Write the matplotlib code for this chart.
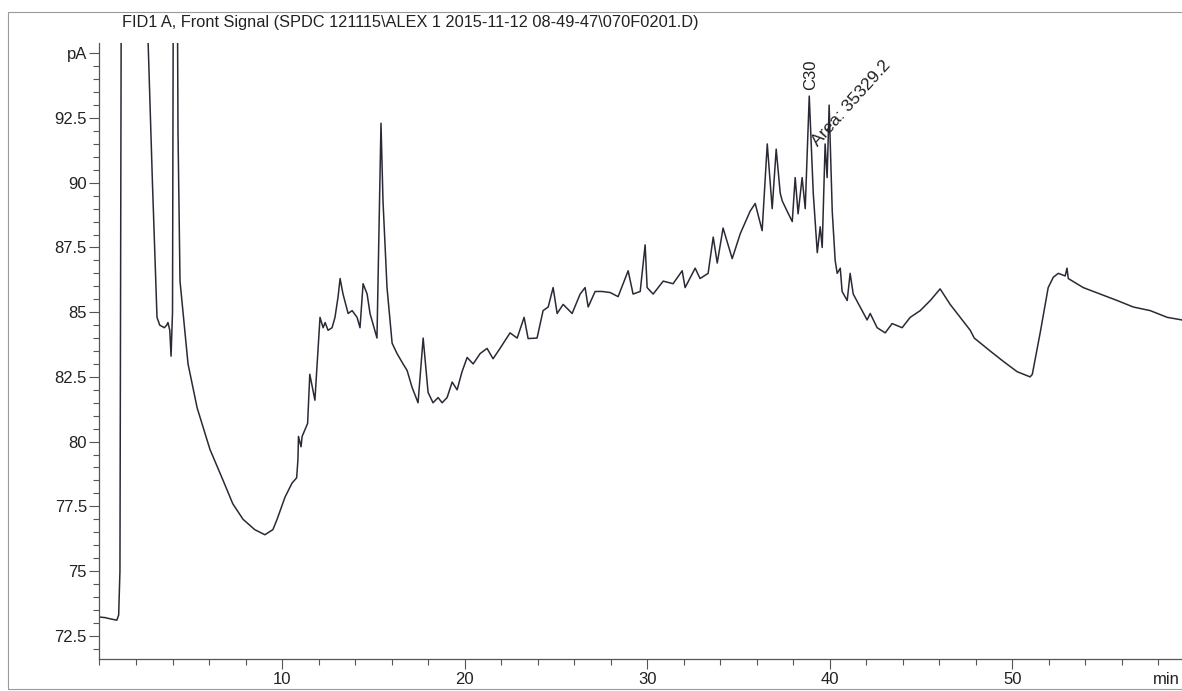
import matplotlib
matplotlib.use("Agg")
import matplotlib.pyplot as plt
from matplotlib.ticker import FixedLocator, MultipleLocator
from matplotlib.patches import Rectangle

plt.rcParams['font.family'] = ['Liberation Sans', 'DejaVu Sans']

title = "FID1 A, Front Signal (SPDC 121115\\ALEX 1 2015-11-12 08-49-47\\070F0201.D)"

# retention time (min)
time_min = [
    0.0, 0.3, 0.6, 0.95, 1.05, 1.12, 1.2,
    2.62, 2.66, 2.9, 3.15, 3.3, 3.55, 3.68, 3.75, 3.85, 3.92, 4.0, 4.05,
    4.25, 4.3, 4.41, 4.85, 5.35, 6.05, 6.77, 7.3, 7.86, 8.5, 9.06, 9.5, 9.73,
    10.16, 10.55, 10.8, 10.87, 10.9, 11.04, 11.1, 11.4, 11.52, 11.8, 11.92,
    12.08, 12.25, 12.36, 12.52, 12.74, 12.9, 13.07, 13.18, 13.34, 13.62, 13.84,
    14.11, 14.27, 14.44, 14.66, 14.82, 15.2, 15.42, 15.53, 15.75, 16.03, 16.3,
    16.63, 16.85, 17.12, 17.45, 17.73, 18.0, 18.27, 18.55, 18.77, 19.04, 19.32,
    19.59, 19.86, 20.14, 20.47, 20.85, 21.23, 21.56, 21.94, 22.49, 22.88, 23.26,
    23.48, 23.97, 24.3, 24.58, 24.85, 25.07, 25.4, 25.89, 26.33, 26.6, 26.77,
    27.15, 27.53, 27.97, 28.41, 28.96, 29.23, 29.62, 29.89, 30.0, 30.33, 30.88,
    31.42, 31.92, 32.08, 32.63, 32.9, 33.34, 33.62, 33.84, 34.16, 34.66, 35.1,
    35.64, 35.92, 36.3, 36.58, 36.85, 37.07, 37.29, 37.4, 37.67, 37.95, 38.11,
    38.27, 38.49, 38.66, 38.88, 39.1, 39.32, 39.48, 39.59, 39.75, 39.86, 39.97,
    40.14, 40.3, 40.41, 40.58, 40.68, 40.96, 41.12, 41.29, 41.67, 42.05, 42.22,
    42.6, 43.04, 43.42, 43.97, 44.41, 44.96, 45.51, 46.05, 46.6, 47.15, 47.7,
    47.92, 48.79, 49.51, 50.27, 50.98, 51.1, 51.53, 51.97, 52.25, 52.52, 52.9,
    53.0, 53.07, 53.89, 54.82, 55.75, 56.63, 57.56, 58.49, 59.3,
]

# detector signal (pA)
signal_pa = [
    73.22, 73.2, 73.15, 73.1, 73.3, 75.0, 100.0,
    100.0, 95.5, 90.0, 84.8, 84.5, 84.4, 84.5, 84.6, 84.3, 83.3, 85.0, 100.0,
    100.0, 92.0, 86.2, 83.0, 81.3, 79.7, 78.5, 77.6, 77.0, 76.6, 76.4, 76.6, 77.0,
    77.85, 78.4, 78.6, 79.3, 80.2, 79.8, 80.2, 80.7, 82.6, 81.6, 83.0,
    84.8, 84.4, 84.6, 84.3, 84.4, 84.8, 85.6, 86.3, 85.7, 84.95, 85.06,
    84.8, 84.4, 86.1, 85.7, 84.95, 84.0, 92.3, 89.3, 85.95, 83.8, 83.4,
    83.0, 82.75, 82.1, 81.5, 84.0, 81.9, 81.5, 81.7, 81.5, 81.7, 82.3,
    82.0, 82.7, 83.25, 83.0, 83.4, 83.6, 83.2, 83.6, 84.2, 84.0, 84.8,
    83.98, 84.0, 85.06, 85.2, 85.95, 84.95, 85.3, 84.95, 85.7, 85.95, 85.2,
    85.8, 85.8, 85.76, 85.6, 86.6, 85.7, 85.8, 87.6, 85.95, 85.7, 86.2,
    86.1, 86.6, 85.95, 86.7, 86.3, 86.5, 87.9, 86.9, 88.25, 87.07, 88.03,
    88.9, 89.2, 88.15, 91.5, 89.0, 91.3, 89.6, 89.3, 88.9, 88.5, 90.2,
    88.8, 90.2, 89.0, 93.35, 89.6, 87.3, 88.3, 87.5, 91.5, 90.2, 93.0,
    88.9, 87.0, 86.5, 86.7, 85.8, 85.45, 86.5, 85.7, 85.2, 84.7, 84.95,
    84.4, 84.2, 84.56, 84.4, 84.8, 85.06, 85.45, 85.9, 85.3, 84.8, 84.3,
    84.0, 83.5, 83.1, 82.7, 82.5, 82.6, 84.2, 85.95, 86.35, 86.5, 86.4,
    86.7, 86.3, 85.95, 85.7, 85.45, 85.2, 85.06, 84.8, 84.7,
]

y_major = [72.5, 75, 77.5, 80, 82.5, 85, 87.5, 90, 92.5, 95]
y_labels = ["72.5", "75", "77.5", "80", "82.5", "85", "87.5", "90", "92.5", "pA"]
x_major = [10, 20, 30, 40, 50]
x_labels = ["10", "20", "30", "40", "50"]

peak_label = "C30"
area_label = "Area: 35329.2"

W, H = 1182, 691
fig = plt.figure(figsize=(W / 100, H / 100), dpi=100)
fig.patch.set_facecolor('white')

# scanned page border
fig.patches.append(Rectangle((8 / W, 2 / H), 1.0, 1 - 14 / H, transform=fig.transFigure,
                             fill=False, edgecolor='#9a9a9a', linewidth=0.8))

ax = fig.add_axes([99.5 / W, 32 / H, 1 - 99.5 / W, (691 - 43 - 32) / H])
ax.plot(time_min, signal_pa, color='#2a2a36', linewidth=1.1)

ax.set_xlim(0, 59.3)
ax.set_ylim(71.6, 95.4)

for s in ['top', 'right']:
    ax.spines[s].set_visible(False)
for s in ['left', 'bottom']:
    ax.spines[s].set_color('#555555')
    ax.spines[s].set_linewidth(0.9)

ax.yaxis.set_major_locator(FixedLocator(y_major))
ax.set_yticklabels(y_labels)
ax.yaxis.set_minor_locator(MultipleLocator(0.5))
ax.xaxis.set_major_locator(FixedLocator(x_major))
ax.set_xticklabels(x_labels)
ax.xaxis.set_minor_locator(MultipleLocator(2))

ax.tick_params(axis='both', which='major', direction='out', length=7, width=0.8,
               color='#555555', labelsize=12, labelcolor='#222222', pad=2)
ax.tick_params(axis='both', which='minor', direction='out', length=4, width=0.8,
               color='#555555')

fig.text(1 - 2 / W, 1 - 680 / H, "min", ha='right', va='center',
         fontsize=12, color='#222222')

fig.text(122 / W, 1 - 22 / H, title, ha='left', va='center', fontsize=11.8, color='#222222')

ax.text(38.95, 93.6, peak_label, rotation=90, ha='center', va='bottom', fontsize=12,
        color='#222222', clip_on=False)
ax.text(39.35, 91.4, area_label, rotation=48, rotation_mode='anchor', ha='left',
        va='baseline', fontsize=12.5, color='#222222', clip_on=False)

fig.savefig("out.png", dpi=100, facecolor='white')
